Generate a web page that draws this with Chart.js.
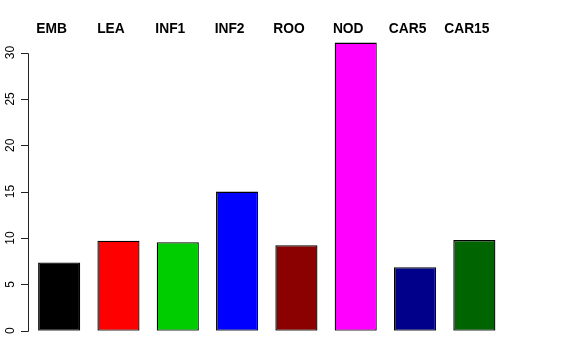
<!DOCTYPE html>
<html>
<head>
<meta charset="utf-8">
<script src="https://cdn.jsdelivr.net/npm/chart.js@4"></script>
<style>
    html, body { margin: 0; padding: 0; background: #fff; }
    #wrap { width: 576px; height: 360px; }
</style>
</head>
<body>
<div id="wrap"><canvas id="barChart" width="576" height="360"></canvas></div>
<script>
const categories = ['EMB', 'LEA', 'INF1', 'INF2', 'ROO', 'NOD', 'CAR5', 'CAR15'];
const values = [7.35, 9.7, 9.55, 15.0, 9.22, 31.07, 6.85, 9.77];
const barColors = ['#000000', '#FF0000', '#00CD00', '#0000FF', '#8B0000', '#FF00FF', '#00008B', '#006400'];
const yTicks = [0, 5, 10, 15, 20, 25, 30];

// axis and labels drawn R-style on top of the chart scales
const rAxisPlugin = {
    id: 'rAxis',
    afterDraw(chart) {
        const ctx = chart.ctx;
        const y = chart.scales.y;
        const x = chart.scales.x;
        const axisX = 28.5;

        ctx.save();
        ctx.strokeStyle = '#222';
        ctx.lineWidth = 1;
        ctx.beginPath();
        ctx.moveTo(axisX, Math.round(y.getPixelForValue(yTicks[0])) + 0.5);
        ctx.lineTo(axisX, Math.round(y.getPixelForValue(yTicks[yTicks.length - 1])) + 0.5);
        yTicks.forEach(t => {
            const py = Math.round(y.getPixelForValue(t)) + 0.5;
            ctx.moveTo(axisX - 7.5, py);
            ctx.lineTo(axisX, py);
        });
        ctx.stroke();

        ctx.fillStyle = '#000';
        ctx.font = '12px "Liberation Sans", Arial, sans-serif';
        ctx.textAlign = 'center';
        ctx.textBaseline = 'middle';
        yTicks.forEach(t => {
            const py = y.getPixelForValue(t);
            ctx.save();
            ctx.translate(10.5, py);
            ctx.rotate(-Math.PI / 2);
            ctx.fillText(String(t), 0, 0);
            ctx.restore();
        });

        ctx.font = 'bold 13.8px "Liberation Sans", Arial, sans-serif';
        categories.forEach((c, i) => {
            ctx.fillText(c, x.getPixelForValue(i) - 7.5, 29.5);
        });
        ctx.restore();
    }
};

const ctx = document.getElementById('barChart').getContext('2d');
new Chart(ctx, {
    type: 'bar',
    data: {
        labels: categories,
        datasets: [{
            data: values,
            backgroundColor: barColors,
            borderColor: '#000',
            borderWidth: 1.3,
            borderSkipped: false,
            categoryPercentage: 1,
            barPercentage: 0.71
        }]
    },
    options: {
        responsive: false,
        animation: false,
        layout: {
            padding: { left: 29.5, right: 72, top: 34, bottom: 29.3 }
        },
        scales: {
            x: { display: false },
            y: { display: false, min: 0, max: 32 }
        },
        plugins: {
            legend: { display: false },
            tooltip: { enabled: false }
        }
    },
    plugins: [rAxisPlugin]
});
</script>
</body>
</html>
